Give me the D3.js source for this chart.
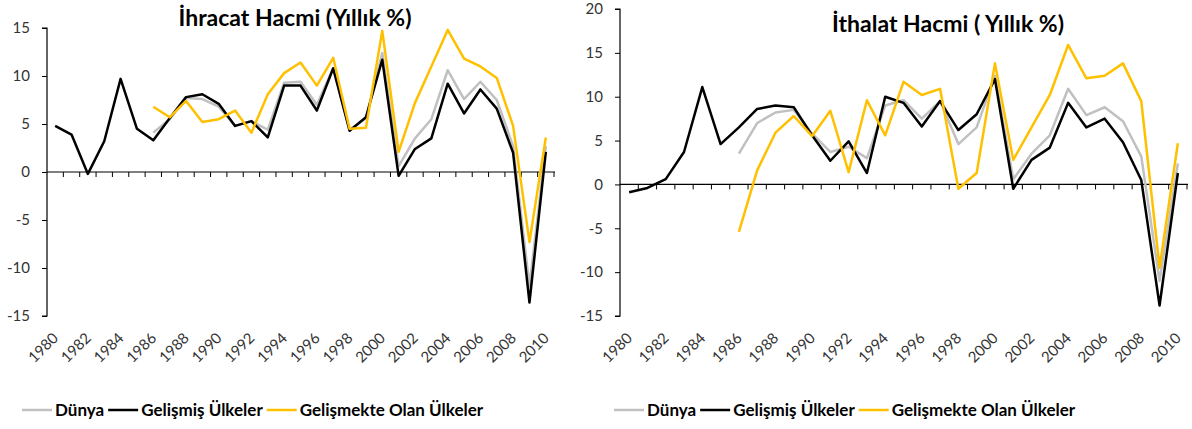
<!DOCTYPE html>
<html>
<head>
<meta charset="utf-8">
<script src="https://cdn.jsdelivr.net/npm/d3@7"></script>
<style>
  body { margin: 0; background: #fff; }
  text { font-family: Lato, "Open Sans", sans-serif; }
</style>
</head>
<body>
<div id="chart"></div>
<script>
// categories
const years = [1980, 1981, 1982, 1983, 1984, 1985, 1986, 1987, 1988, 1989,
               1990, 1991, 1992, 1993, 1994, 1995, 1996, 1997, 1998, 1999,
               2000, 2001, 2002, 2003, 2004, 2005, 2006, 2007, 2008, 2009, 2010];
const yearLabels = ["1980", "1982", "1984", "1986", "1988", "1990", "1992", "1994",
                    "1996", "1998", "2000", "2002", "2004", "2006", "2008", "2010"];

const seriesNames = ["Dünya", "Gelişmiş Ülkeler", "Gelişmekte Olan Ülkeler"];
const seriesColors = ["#c0c0c0", "#000000", "#ffc000"];

// İhracat (export volume, annual %)
const exportWorld = [null, null, null, null, null, null, 4.1, 5.5, 7.7, 7.6,
                     6.8, 4.8, 5.3, 4.4, 9.3, 9.4, 7.0, 10.8, 4.4, 5.6,
                     12.4, 0.6, 3.5, 5.5, 10.6, 7.6, 9.4, 7.5, 2.7, -11.9, 2.7];
const exportAdvanced = [4.8, 3.9, -0.2, 3.2, 9.7, 4.5, 3.3, 5.6, 7.8, 8.1,
                        7.1, 4.8, 5.3, 3.6, 9.0, 9.0, 6.4, 10.8, 4.3, 5.7,
                        11.7, -0.4, 2.4, 3.5, 9.2, 6.1, 8.6, 6.6, 2.0, -13.6, 2.1];
const exportEmerging = [null, null, null, null, null, null, 6.8, 5.7, 7.4, 5.2,
                        5.5, 6.4, 4.1, 8.1, 10.3, 11.4, 9.0, 11.9, 4.5, 4.6,
                        14.7, 2.1, 7.2, 11.0, 14.8, 11.8, 11.0, 9.8, 4.8, -7.3, 3.6];

// İthalat (import volume, annual %)
const importWorld = [null, null, null, null, null, null, 3.5, 7.0, 8.2, 8.5,
                     5.8, 3.7, 4.3, 3.0, 9.0, 9.6, 7.5, 9.5, 4.6, 6.5,
                     12.4, 0.6, 3.5, 5.6, 10.9, 7.9, 8.8, 7.2, 3.2, -11.0, 2.4];
const importAdvanced = [-0.9, -0.4, 0.6, 3.7, 11.1, 4.6, 6.5, 8.6, 9.0, 8.8,
                        5.6, 2.7, 4.9, 1.3, 10.0, 9.3, 6.6, 9.5, 6.2, 8.0,
                        12.0, -0.5, 2.8, 4.2, 9.3, 6.5, 7.5, 4.8, 0.5, -13.8, 1.3];
const importEmerging = [null, null, null, null, null, null, -5.4, 1.6, 5.9, 7.8,
                        5.5, 8.4, 1.4, 9.6, 5.6, 11.7, 10.2, 10.9, -0.5, 1.3,
                        13.8, 2.8, 6.5, 10.2, 15.9, 12.1, 12.4, 13.8, 9.5, -9.5, 4.7];

const exportTicks = [15, 10, 5, 0, -5, -10, -15];
const importTicks = [20, 15, 10, 5, 0, -5, -10, -15];

const svg = d3.select("#chart").append("svg")
    .attr("width", 1192)
    .attr("height", 429);

function drawPanel(p) {
    const g = svg.append("g");

    const x = d3.scaleBand().domain(years).range([p.left, p.right]);
    const y = d3.scaleLinear().domain(p.domain).range([p.bottom, p.top]);

    // title
    g.append("text")
        .attr("x", p.titleX)
        .attr("y", p.titleY)
        .attr("text-anchor", "middle")
        .attr("font-size", 23)
        .attr("font-weight", "bold")
        .attr("fill", "#000")
        .text(p.title);

    // y axis
    const yAxis = d3.axisLeft(y).tickValues(p.ticks).tickSize(5).tickPadding(12)
        .tickFormat(d3.format("d"));
    const ya = g.append("g")
        .attr("transform", `translate(${p.left},0)`)
        .call(yAxis);
    ya.select(".domain").attr("stroke", "#000").attr("stroke-width", 1.2)
        .attr("d", `M-5,${p.top}H0V${p.bottom}H-5`);
    ya.selectAll(".tick line").attr("stroke", "#000");
    ya.selectAll(".tick text")
        .attr("font-size", 15)
        .attr("fill", "#333")
        .text(d => d < 0 ? "-" + Math.abs(d) : d);

    // zero line with category ticks
    const y0 = y(0);
    g.append("line")
        .attr("x1", p.left).attr("x2", p.right + 1)
        .attr("y1", y0).attr("y2", y0)
        .attr("stroke", "#000").attr("stroke-width", 1.2);
    const bounds = years.map(d => x(d) + x.bandwidth());
    g.selectAll(".ctick").data(bounds).join("line")
        .attr("class", "ctick")
        .attr("x1", d => d).attr("x2", d => d)
        .attr("y1", y0).attr("y2", y0 + 5)
        .attr("stroke", "#000");

    // year labels, rotated below plot
    g.selectAll(".ylab").data(yearLabels).join("text")
        .attr("class", "ylab")
        .attr("transform", d => `translate(${x(+d) + x.bandwidth() / 2 + 4},${p.bottom + 23}) rotate(-45)`)
        .attr("text-anchor", "end")
        .attr("font-size", 15)
        .attr("fill", "#333")
        .text(d => d);

    // lines
    const line = d3.line()
        .defined(d => d[1] != null)
        .x(d => x(d[0]) + x.bandwidth() / 2)
        .y(d => y(d[1]));

    p.series.forEach((s, i) => {
        g.append("path")
            .datum(years.map((yr, j) => [yr, s[j]]))
            .attr("fill", "none")
            .attr("stroke", seriesColors[i])
            .attr("stroke-width", 2.5)
            .attr("stroke-linejoin", "round")
            .attr("d", line);
    });

    // legend
    const lg = g.append("g").attr("transform", `translate(${p.legendX},${p.legendY})`);
    let cx = 0;
    seriesNames.forEach((name, i) => {
        lg.append("line")
            .attr("x1", cx).attr("x2", cx + 30)
            .attr("y1", 0).attr("y2", 0)
            .attr("stroke", seriesColors[i])
            .attr("stroke-width", 2.5);
        const t = lg.append("text")
            .attr("x", cx + 33)
            .attr("y", 6)
            .attr("font-size", 17)
            .attr("font-weight", "bold")
            .attr("fill", "#000")
            .text(name);
        cx += 33 + t.node().getComputedTextLength() + 4;
    });
}

drawPanel({
    title: "İhracat Hacmi (Yıllık %)",
    titleX: 295, titleY: 26,
    left: 47, right: 554, top: 28, bottom: 316,
    domain: [-15, 15], ticks: exportTicks,
    series: [exportWorld, exportAdvanced, exportEmerging],
    legendX: 22, legendY: 410
});

drawPanel({
    title: "İthalat Hacmi ( Yıllık %)",
    titleX: 948, titleY: 32,
    left: 620, right: 1187, top: 9, bottom: 316,
    domain: [-15, 20], ticks: importTicks,
    series: [importWorld, importAdvanced, importEmerging],
    legendX: 614, legendY: 410
});
</script>
</body>
</html>
